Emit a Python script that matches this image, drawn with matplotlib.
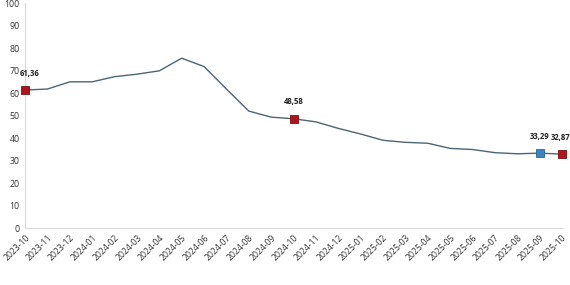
import matplotlib
matplotlib.use("Agg")
import matplotlib.pyplot as plt

plt.rcParams['font.family'] = ['Open Sans', 'DejaVu Sans']

months = ["2023-10", "2023-11", "2023-12", "2024-01", "2024-02", "2024-03", "2024-04",
          "2024-05", "2024-06", "2024-07", "2024-08", "2024-09", "2024-10", "2024-11",
          "2024-12", "2025-01", "2025-02", "2025-03", "2025-04", "2025-05", "2025-06",
          "2025-07", "2025-08", "2025-09", "2025-10"]
values = [61.36, 61.8, 65.0, 65.0, 67.3, 68.4, 69.9, 75.5, 71.8, 61.8, 52.0, 49.3, 48.58,
          47.2, 44.3, 41.8, 39.0, 38.1, 37.7, 35.4, 34.9, 33.5, 33.0, 33.29, 32.87]
red_idx = [0, 12, 24]
blue_idx = [23]
yticks = [0, 10, 20, 30, 40, 50, 60, 70, 80, 90, 100]

fig = plt.figure(figsize=(5.7, 2.85), dpi=100)
ax = fig.add_axes([0.044, 0.2, 0.942, 0.789])
x = list(range(len(months)))
ax.plot(x, values, color="#4d6472", lw=1.0, zorder=2, clip_on=False)
for i in red_idx:
    ax.plot(i, values[i], marker="s", ms=6.3, color="#b3141c", mec="#7a0e12", mew=0.6,
            zorder=3, clip_on=False)
for i in blue_idx:
    ax.plot(i, values[i], marker="s", ms=6.3, color="#3b84c4", mec="#2a6496", mew=0.6,
            zorder=3, clip_on=False)
offsets = {0: (3.5, 9), 12: (0, 9), 23: (0, 9), 24: (-1, 9)}
for i in red_idx + blue_idx:
    ax.annotate(f"{values[i]:.2f}".replace(".", ","), (i, values[i]), xytext=offsets[i],
                textcoords="offset points", ha="center", va="bottom", fontsize=5.5,
                fontweight="bold", color="#222222")

ax.set_xlim(0, 24)
ax.set_ylim(0, 100)
ax.set_yticks(yticks)
ax.set_yticklabels([str(v) for v in yticks], fontsize=6.3, color="#333333")
ax.set_xticks(x)
ax.set_xticklabels(months, rotation=45, ha="right", rotation_mode="anchor", fontsize=6.2, color="#333333")
ax.tick_params(length=0, pad=4)
for s in ["top", "right"]:
    ax.spines[s].set_visible(False)
for s in ["left", "bottom"]:
    ax.spines[s].set_color("#d9d9d9")
    ax.spines[s].set_linewidth(0.8)

fig.savefig("out.png", dpi=100)
